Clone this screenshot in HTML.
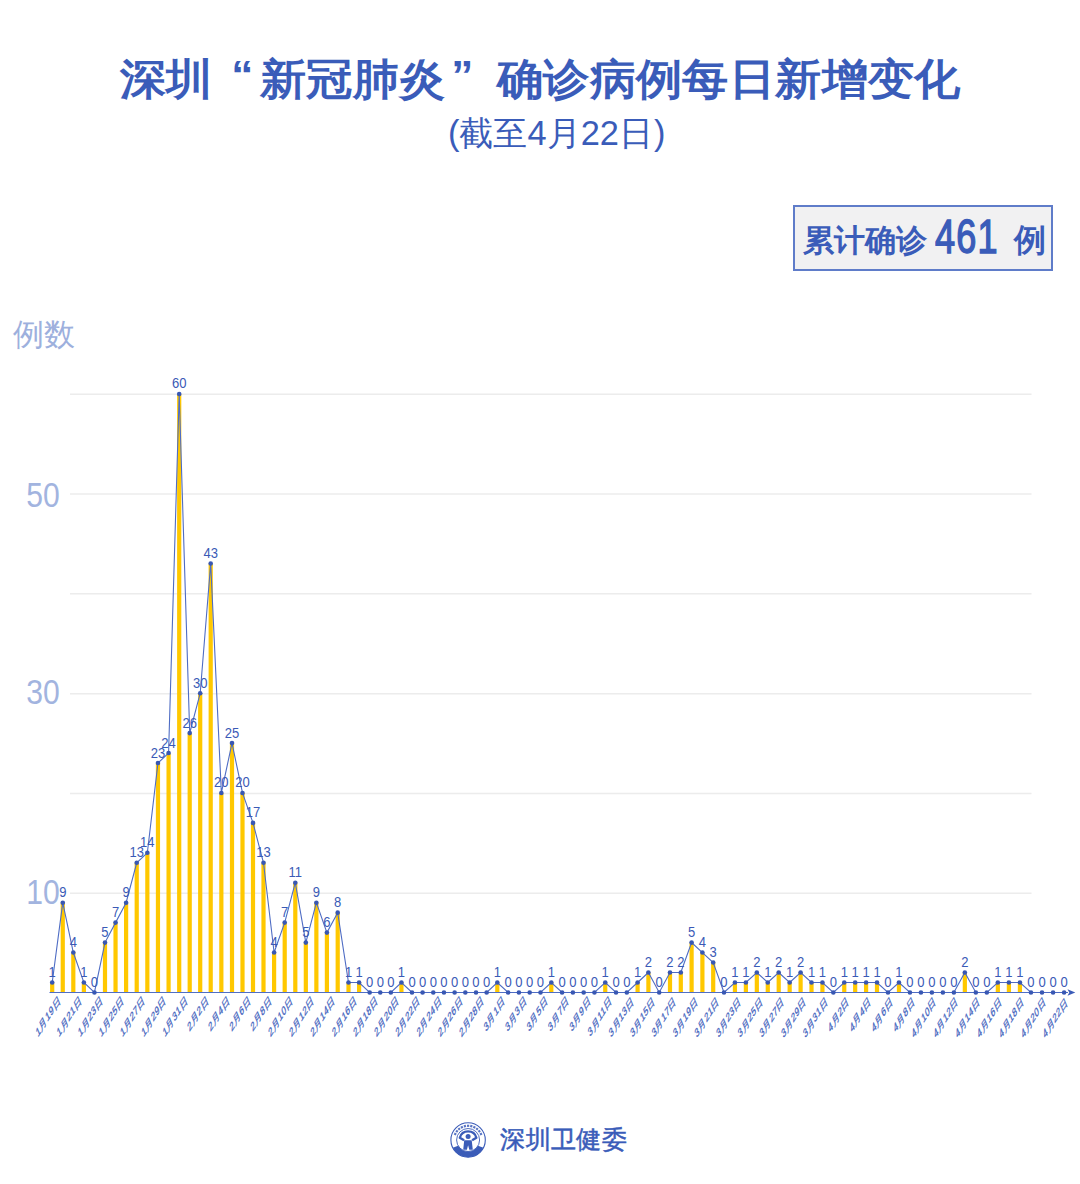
<!DOCTYPE html>
<html><head><meta charset="utf-8">
<style>
html,body{margin:0;padding:0;background:#fff;}
body{width:1080px;height:1184px;position:relative;overflow:hidden;font-family:"Liberation Sans",sans-serif;}
.abs{position:absolute;white-space:nowrap;}
.c{display:inline-block;text-align:center;letter-spacing:0;}
#title{left:0;width:1080px;text-align:center;top:48px;font-size:46px;letter-spacing:0.4px;font-weight:bold;color:#3a5cb9;line-height:60px;transform:scaleY(0.93);transform-origin:0 52px;}
.q1{display:inline-block;width:47.5px;text-align:right;box-sizing:border-box;padding-right:6px;position:relative;top:-6.5px;font-size:44px;}
.q2{display:inline-block;width:51.5px;text-align:left;box-sizing:border-box;padding-left:6px;position:relative;top:-6.5px;font-size:44px;}
#sub{left:448px;top:113px;font-size:34.4px;color:#3a5cb9;line-height:40px;}
#box{left:793px;top:205px;width:256px;height:62px;border:2px solid #5f7cc9;background:#f1f1f2;}
#ylab{left:13px;top:313.5px;font-size:30.5px;color:#9db0dd;line-height:40px;}
.yt{font-size:35px;color:#a2b4df;line-height:40px;text-align:right;width:60px;left:0;transform:scaleX(0.86);transform-origin:59px 0;}
#foot{left:500px;top:1121px;font-size:25.2px;color:#3a5cb9;line-height:36px;letter-spacing:0.4px;-webkit-text-stroke:0.5px #3a5cb9;}
svg{position:absolute;left:0;top:0;}
</style></head><body>
<div class="abs" id="title"><span class="c" style="width:46.4px">深</span><span class="c" style="width:46.4px">圳</span><span class="q1">“</span><span class="c" style="width:46.4px">新</span><span class="c" style="width:46.4px">冠</span><span class="c" style="width:46.4px">肺</span><span class="c" style="width:46.4px">炎</span><span class="q2">”</span><span class="c" style="width:46.4px">确</span><span class="c" style="width:46.4px">诊</span><span class="c" style="width:46.4px">病</span><span class="c" style="width:46.4px">例</span><span class="c" style="width:46.4px">每</span><span class="c" style="width:46.4px">日</span><span class="c" style="width:46.4px">新</span><span class="c" style="width:46.4px">增</span><span class="c" style="width:46.4px">变</span><span class="c" style="width:46.4px">化</span></div>
<div class="abs" id="sub">(<span class="c" style="width:34.02px">截</span><span class="c" style="width:34.02px">至</span>4<span class="c" style="width:34.02px">月</span>22<span class="c" style="width:34.02px">日</span><span style="margin-left:1px">)</span></div>
<div class="abs" id="box"></div>
<div class="abs" style="left:803px;top:220.5px;font-size:31px;font-weight:bold;color:#3a5cb9;line-height:40px;"><span class="c" style="width:31px">累</span><span class="c" style="width:31px">计</span><span class="c" style="width:31px">确</span><span class="c" style="width:31px">诊</span></div>
<div class="abs" style="left:935px;top:211px;font-size:47.5px;color:#3a5cb9;line-height:52px;letter-spacing:1.5px;-webkit-text-stroke:1.5px #3a5cb9;transform:scaleX(0.76);transform-origin:0 0;">461</div>
<div class="abs" style="left:1014px;top:220px;font-size:32px;font-weight:bold;color:#3a5cb9;line-height:40px;"><span class="c" style="width:32px">例</span></div>
<div class="abs" id="ylab"><span class="c" style="width:31px">例</span><span class="c" style="width:31px">数</span></div>
<div class="abs yt" style="top:475px;">50</div>
<div class="abs yt" style="top:672px;">30</div>
<div class="abs yt" style="top:872px;">10</div>
<svg width="1080" height="1184" viewBox="0 0 1080 1184">
<line x1="70" y1="893.28" x2="1031.5" y2="893.28" stroke="#ececec" stroke-width="1.5"/>
<line x1="70" y1="793.46" x2="1031.5" y2="793.46" stroke="#ececec" stroke-width="1.5"/>
<line x1="70" y1="693.64" x2="1031.5" y2="693.64" stroke="#ececec" stroke-width="1.5"/>
<line x1="70" y1="593.82" x2="1031.5" y2="593.82" stroke="#ececec" stroke-width="1.5"/>
<line x1="70" y1="494.00" x2="1031.5" y2="494.00" stroke="#ececec" stroke-width="1.5"/>
<line x1="70" y1="394.18" x2="1031.5" y2="394.18" stroke="#ececec" stroke-width="1.5"/>
<rect x="50.10" y="982.48" width="4.2" height="9.98" fill="#ffc800"/>
<rect x="60.66" y="902.68" width="4.2" height="89.77" fill="#ffc800"/>
<rect x="71.21" y="952.55" width="4.2" height="39.90" fill="#ffc800"/>
<rect x="81.77" y="982.48" width="4.2" height="9.98" fill="#ffc800"/>
<rect x="102.89" y="942.58" width="4.2" height="49.88" fill="#ffc800"/>
<rect x="113.44" y="922.62" width="4.2" height="69.83" fill="#ffc800"/>
<rect x="124.00" y="902.68" width="4.2" height="89.77" fill="#ffc800"/>
<rect x="134.62" y="862.78" width="4.2" height="129.67" fill="#ffc800"/>
<rect x="145.24" y="852.80" width="4.2" height="139.65" fill="#ffc800"/>
<rect x="155.86" y="763.03" width="4.2" height="229.42" fill="#ffc800"/>
<rect x="166.48" y="753.05" width="4.2" height="239.40" fill="#ffc800"/>
<rect x="177.10" y="393.95" width="4.2" height="598.50" fill="#ffc800"/>
<rect x="187.60" y="733.10" width="4.2" height="259.35" fill="#ffc800"/>
<rect x="198.10" y="693.20" width="4.2" height="299.25" fill="#ffc800"/>
<rect x="208.60" y="563.53" width="4.2" height="428.92" fill="#ffc800"/>
<rect x="219.25" y="792.95" width="4.2" height="199.50" fill="#ffc800"/>
<rect x="229.90" y="743.08" width="4.2" height="249.38" fill="#ffc800"/>
<rect x="240.40" y="792.95" width="4.2" height="199.50" fill="#ffc800"/>
<rect x="250.90" y="822.88" width="4.2" height="169.58" fill="#ffc800"/>
<rect x="261.40" y="862.78" width="4.2" height="129.67" fill="#ffc800"/>
<rect x="272.00" y="952.55" width="4.2" height="39.90" fill="#ffc800"/>
<rect x="282.60" y="922.62" width="4.2" height="69.83" fill="#ffc800"/>
<rect x="293.20" y="882.73" width="4.2" height="109.73" fill="#ffc800"/>
<rect x="303.73" y="942.58" width="4.2" height="49.88" fill="#ffc800"/>
<rect x="314.27" y="902.68" width="4.2" height="89.77" fill="#ffc800"/>
<rect x="324.80" y="932.60" width="4.2" height="59.85" fill="#ffc800"/>
<rect x="335.60" y="912.65" width="4.2" height="79.80" fill="#ffc800"/>
<rect x="346.40" y="982.48" width="4.2" height="9.98" fill="#ffc800"/>
<rect x="356.99" y="982.48" width="4.2" height="9.98" fill="#ffc800"/>
<rect x="399.33" y="982.48" width="4.2" height="9.98" fill="#ffc800"/>
<rect x="495.20" y="982.48" width="4.2" height="9.98" fill="#ffc800"/>
<rect x="549.20" y="982.48" width="4.2" height="9.98" fill="#ffc800"/>
<rect x="603.14" y="982.48" width="4.2" height="9.98" fill="#ffc800"/>
<rect x="635.50" y="982.48" width="4.2" height="9.98" fill="#ffc800"/>
<rect x="646.30" y="972.50" width="4.2" height="19.95" fill="#ffc800"/>
<rect x="667.90" y="972.50" width="4.2" height="19.95" fill="#ffc800"/>
<rect x="678.70" y="972.50" width="4.2" height="19.95" fill="#ffc800"/>
<rect x="689.50" y="942.58" width="4.2" height="49.88" fill="#ffc800"/>
<rect x="700.30" y="952.55" width="4.2" height="39.90" fill="#ffc800"/>
<rect x="711.10" y="962.53" width="4.2" height="29.92" fill="#ffc800"/>
<rect x="732.84" y="982.48" width="4.2" height="9.98" fill="#ffc800"/>
<rect x="743.79" y="982.48" width="4.2" height="9.98" fill="#ffc800"/>
<rect x="754.73" y="972.50" width="4.2" height="19.95" fill="#ffc800"/>
<rect x="765.67" y="982.48" width="4.2" height="9.98" fill="#ffc800"/>
<rect x="776.61" y="972.50" width="4.2" height="19.95" fill="#ffc800"/>
<rect x="787.56" y="982.48" width="4.2" height="9.98" fill="#ffc800"/>
<rect x="798.50" y="972.50" width="4.2" height="19.95" fill="#ffc800"/>
<rect x="809.41" y="982.48" width="4.2" height="9.98" fill="#ffc800"/>
<rect x="820.33" y="982.48" width="4.2" height="9.98" fill="#ffc800"/>
<rect x="842.16" y="982.48" width="4.2" height="9.98" fill="#ffc800"/>
<rect x="853.07" y="982.48" width="4.2" height="9.98" fill="#ffc800"/>
<rect x="863.99" y="982.48" width="4.2" height="9.98" fill="#ffc800"/>
<rect x="874.90" y="982.48" width="4.2" height="9.98" fill="#ffc800"/>
<rect x="896.86" y="982.48" width="4.2" height="9.98" fill="#ffc800"/>
<rect x="962.74" y="972.50" width="4.2" height="19.95" fill="#ffc800"/>
<rect x="995.74" y="982.48" width="4.2" height="9.98" fill="#ffc800"/>
<rect x="1006.79" y="982.48" width="4.2" height="9.98" fill="#ffc800"/>
<rect x="1017.83" y="982.48" width="4.2" height="9.98" fill="#ffc800"/>
<line x1="49.5" y1="992.45" x2="1068" y2="992.45" stroke="#4f6fc5" stroke-width="1.1"/>
<path d="M1067.5 989.1500000000001 L1075.3 992.45 L1067.5 995.75 L1069.3 992.45 Z" fill="#3b5cb8"/>
<polyline points="52.20,982.48 62.76,902.68 73.31,952.55 83.87,982.48 94.43,992.45 104.99,942.58 115.54,922.62 126.10,902.68 136.72,862.78 147.34,852.80 157.96,763.03 168.58,753.05 179.20,393.95 189.70,733.10 200.20,693.20 210.70,563.53 221.35,792.95 232.00,743.08 242.50,792.95 253.00,822.88 263.50,862.78 274.10,952.55 284.70,922.62 295.30,882.73 305.83,942.58 316.37,902.68 326.90,932.60 337.70,912.65 348.50,982.48 359.09,982.48 369.67,992.45 380.26,992.45 390.84,992.45 401.43,982.48 412.01,992.45 422.60,992.45 433.28,992.45 443.96,992.45 454.64,992.45 465.32,992.45 476.00,992.45 486.65,992.45 497.30,982.48 508.10,992.45 518.90,992.45 529.70,992.45 540.50,992.45 551.30,982.48 562.10,992.45 572.89,992.45 583.67,992.45 594.46,992.45 605.24,982.48 616.03,992.45 626.81,992.45 637.60,982.48 648.40,972.50 659.20,992.45 670.00,972.50 680.80,972.50 691.60,942.58 702.40,952.55 713.20,962.53 724.00,992.45 734.94,982.48 745.89,982.48 756.83,972.50 767.77,982.48 778.71,972.50 789.66,982.48 800.60,972.50 811.51,982.48 822.43,982.48 833.34,992.45 844.26,982.48 855.17,982.48 866.09,982.48 877.00,982.48 887.98,992.45 898.96,982.48 909.94,992.45 920.92,992.45 931.90,992.45 942.88,992.45 953.86,992.45 964.84,972.50 975.82,992.45 986.80,992.45 997.84,982.48 1008.89,982.48 1019.93,982.48 1030.97,992.45 1042.01,992.45 1053.06,992.45 1064.10,992.45" fill="none" stroke="#4e6cc4" stroke-width="1.1" stroke-linejoin="miter"/>
<circle cx="52.20" cy="982.48" r="2.3" fill="#3857b3"/>
<circle cx="62.76" cy="902.68" r="2.3" fill="#3857b3"/>
<circle cx="73.31" cy="952.55" r="2.3" fill="#3857b3"/>
<circle cx="83.87" cy="982.48" r="2.3" fill="#3857b3"/>
<circle cx="94.43" cy="992.45" r="2.3" fill="#3857b3"/>
<circle cx="104.99" cy="942.58" r="2.3" fill="#3857b3"/>
<circle cx="115.54" cy="922.62" r="2.3" fill="#3857b3"/>
<circle cx="126.10" cy="902.68" r="2.3" fill="#3857b3"/>
<circle cx="136.72" cy="862.78" r="2.3" fill="#3857b3"/>
<circle cx="147.34" cy="852.80" r="2.3" fill="#3857b3"/>
<circle cx="157.96" cy="763.03" r="2.3" fill="#3857b3"/>
<circle cx="168.58" cy="753.05" r="2.3" fill="#3857b3"/>
<circle cx="179.20" cy="393.95" r="2.3" fill="#3857b3"/>
<circle cx="189.70" cy="733.10" r="2.3" fill="#3857b3"/>
<circle cx="200.20" cy="693.20" r="2.3" fill="#3857b3"/>
<circle cx="210.70" cy="563.53" r="2.3" fill="#3857b3"/>
<circle cx="221.35" cy="792.95" r="2.3" fill="#3857b3"/>
<circle cx="232.00" cy="743.08" r="2.3" fill="#3857b3"/>
<circle cx="242.50" cy="792.95" r="2.3" fill="#3857b3"/>
<circle cx="253.00" cy="822.88" r="2.3" fill="#3857b3"/>
<circle cx="263.50" cy="862.78" r="2.3" fill="#3857b3"/>
<circle cx="274.10" cy="952.55" r="2.3" fill="#3857b3"/>
<circle cx="284.70" cy="922.62" r="2.3" fill="#3857b3"/>
<circle cx="295.30" cy="882.73" r="2.3" fill="#3857b3"/>
<circle cx="305.83" cy="942.58" r="2.3" fill="#3857b3"/>
<circle cx="316.37" cy="902.68" r="2.3" fill="#3857b3"/>
<circle cx="326.90" cy="932.60" r="2.3" fill="#3857b3"/>
<circle cx="337.70" cy="912.65" r="2.3" fill="#3857b3"/>
<circle cx="348.50" cy="982.48" r="2.3" fill="#3857b3"/>
<circle cx="359.09" cy="982.48" r="2.3" fill="#3857b3"/>
<circle cx="369.67" cy="992.45" r="2.3" fill="#3857b3"/>
<circle cx="380.26" cy="992.45" r="2.3" fill="#3857b3"/>
<circle cx="390.84" cy="992.45" r="2.3" fill="#3857b3"/>
<circle cx="401.43" cy="982.48" r="2.3" fill="#3857b3"/>
<circle cx="412.01" cy="992.45" r="2.3" fill="#3857b3"/>
<circle cx="422.60" cy="992.45" r="2.3" fill="#3857b3"/>
<circle cx="433.28" cy="992.45" r="2.3" fill="#3857b3"/>
<circle cx="443.96" cy="992.45" r="2.3" fill="#3857b3"/>
<circle cx="454.64" cy="992.45" r="2.3" fill="#3857b3"/>
<circle cx="465.32" cy="992.45" r="2.3" fill="#3857b3"/>
<circle cx="476.00" cy="992.45" r="2.3" fill="#3857b3"/>
<circle cx="486.65" cy="992.45" r="2.3" fill="#3857b3"/>
<circle cx="497.30" cy="982.48" r="2.3" fill="#3857b3"/>
<circle cx="508.10" cy="992.45" r="2.3" fill="#3857b3"/>
<circle cx="518.90" cy="992.45" r="2.3" fill="#3857b3"/>
<circle cx="529.70" cy="992.45" r="2.3" fill="#3857b3"/>
<circle cx="540.50" cy="992.45" r="2.3" fill="#3857b3"/>
<circle cx="551.30" cy="982.48" r="2.3" fill="#3857b3"/>
<circle cx="562.10" cy="992.45" r="2.3" fill="#3857b3"/>
<circle cx="572.89" cy="992.45" r="2.3" fill="#3857b3"/>
<circle cx="583.67" cy="992.45" r="2.3" fill="#3857b3"/>
<circle cx="594.46" cy="992.45" r="2.3" fill="#3857b3"/>
<circle cx="605.24" cy="982.48" r="2.3" fill="#3857b3"/>
<circle cx="616.03" cy="992.45" r="2.3" fill="#3857b3"/>
<circle cx="626.81" cy="992.45" r="2.3" fill="#3857b3"/>
<circle cx="637.60" cy="982.48" r="2.3" fill="#3857b3"/>
<circle cx="648.40" cy="972.50" r="2.3" fill="#3857b3"/>
<circle cx="659.20" cy="992.45" r="2.3" fill="#3857b3"/>
<circle cx="670.00" cy="972.50" r="2.3" fill="#3857b3"/>
<circle cx="680.80" cy="972.50" r="2.3" fill="#3857b3"/>
<circle cx="691.60" cy="942.58" r="2.3" fill="#3857b3"/>
<circle cx="702.40" cy="952.55" r="2.3" fill="#3857b3"/>
<circle cx="713.20" cy="962.53" r="2.3" fill="#3857b3"/>
<circle cx="724.00" cy="992.45" r="2.3" fill="#3857b3"/>
<circle cx="734.94" cy="982.48" r="2.3" fill="#3857b3"/>
<circle cx="745.89" cy="982.48" r="2.3" fill="#3857b3"/>
<circle cx="756.83" cy="972.50" r="2.3" fill="#3857b3"/>
<circle cx="767.77" cy="982.48" r="2.3" fill="#3857b3"/>
<circle cx="778.71" cy="972.50" r="2.3" fill="#3857b3"/>
<circle cx="789.66" cy="982.48" r="2.3" fill="#3857b3"/>
<circle cx="800.60" cy="972.50" r="2.3" fill="#3857b3"/>
<circle cx="811.51" cy="982.48" r="2.3" fill="#3857b3"/>
<circle cx="822.43" cy="982.48" r="2.3" fill="#3857b3"/>
<circle cx="833.34" cy="992.45" r="2.3" fill="#3857b3"/>
<circle cx="844.26" cy="982.48" r="2.3" fill="#3857b3"/>
<circle cx="855.17" cy="982.48" r="2.3" fill="#3857b3"/>
<circle cx="866.09" cy="982.48" r="2.3" fill="#3857b3"/>
<circle cx="877.00" cy="982.48" r="2.3" fill="#3857b3"/>
<circle cx="887.98" cy="992.45" r="2.3" fill="#3857b3"/>
<circle cx="898.96" cy="982.48" r="2.3" fill="#3857b3"/>
<circle cx="909.94" cy="992.45" r="2.3" fill="#3857b3"/>
<circle cx="920.92" cy="992.45" r="2.3" fill="#3857b3"/>
<circle cx="931.90" cy="992.45" r="2.3" fill="#3857b3"/>
<circle cx="942.88" cy="992.45" r="2.3" fill="#3857b3"/>
<circle cx="953.86" cy="992.45" r="2.3" fill="#3857b3"/>
<circle cx="964.84" cy="972.50" r="2.3" fill="#3857b3"/>
<circle cx="975.82" cy="992.45" r="2.3" fill="#3857b3"/>
<circle cx="986.80" cy="992.45" r="2.3" fill="#3857b3"/>
<circle cx="997.84" cy="982.48" r="2.3" fill="#3857b3"/>
<circle cx="1008.89" cy="982.48" r="2.3" fill="#3857b3"/>
<circle cx="1019.93" cy="982.48" r="2.3" fill="#3857b3"/>
<circle cx="1030.97" cy="992.45" r="2.3" fill="#3857b3"/>
<circle cx="1042.01" cy="992.45" r="2.3" fill="#3857b3"/>
<circle cx="1053.06" cy="992.45" r="2.3" fill="#3857b3"/>
<circle cx="1064.10" cy="992.45" r="2.3" fill="#3857b3"/>
<g transform="scale(0.93 1)" font-size="14" fill="#3a5ab6" text-anchor="middle" font-family="Liberation Sans, sans-serif"><text x="56.13" y="976.98">1</text><text x="67.48" y="897.18">9</text><text x="78.83" y="947.05">4</text><text x="90.18" y="976.98">1</text><text x="101.54" y="986.95">0</text><text x="112.89" y="937.08">5</text><text x="124.24" y="917.12">7</text><text x="135.59" y="897.18">9</text><text x="147.01" y="857.28">13</text><text x="158.43" y="847.30">14</text><text x="169.85" y="757.53">23</text><text x="181.27" y="747.55">24</text><text x="192.69" y="388.45">60</text><text x="203.98" y="727.60">26</text><text x="215.27" y="687.70">30</text><text x="226.56" y="558.03">43</text><text x="238.01" y="787.45">20</text><text x="249.46" y="737.58">25</text><text x="260.75" y="787.45">20</text><text x="272.04" y="817.38">17</text><text x="283.33" y="857.28">13</text><text x="294.73" y="947.05">4</text><text x="306.13" y="917.12">7</text><text x="317.53" y="877.23">11</text><text x="328.85" y="937.08">5</text><text x="340.18" y="897.18">9</text><text x="351.51" y="927.10">6</text><text x="363.12" y="907.15">8</text><text x="374.73" y="976.98">1</text><text x="386.11" y="976.98">1</text><text x="397.50" y="986.95">0</text><text x="408.88" y="986.95">0</text><text x="420.26" y="986.95">0</text><text x="431.64" y="976.98">1</text><text x="443.03" y="986.95">0</text><text x="454.41" y="986.95">0</text><text x="465.89" y="986.95">0</text><text x="477.38" y="986.95">0</text><text x="488.86" y="986.95">0</text><text x="500.34" y="986.95">0</text><text x="511.83" y="986.95">0</text><text x="523.28" y="986.95">0</text><text x="534.73" y="976.98">1</text><text x="546.34" y="986.95">0</text><text x="557.96" y="986.95">0</text><text x="569.57" y="986.95">0</text><text x="581.18" y="986.95">0</text><text x="592.80" y="976.98">1</text><text x="604.41" y="986.95">0</text><text x="616.01" y="986.95">0</text><text x="627.60" y="986.95">0</text><text x="639.20" y="986.95">0</text><text x="650.80" y="976.98">1</text><text x="662.40" y="986.95">0</text><text x="673.99" y="986.95">0</text><text x="685.59" y="976.98">1</text><text x="697.20" y="967.00">2</text><text x="708.82" y="986.95">0</text><text x="720.43" y="967.00">2</text><text x="732.04" y="967.00">2</text><text x="743.66" y="937.08">5</text><text x="755.27" y="947.05">4</text><text x="766.88" y="957.03">3</text><text x="778.49" y="986.95">0</text><text x="790.26" y="976.98">1</text><text x="802.03" y="976.98">1</text><text x="813.79" y="967.00">2</text><text x="825.56" y="976.98">1</text><text x="837.33" y="967.00">2</text><text x="849.09" y="976.98">1</text><text x="860.86" y="967.00">2</text><text x="872.60" y="976.98">1</text><text x="884.33" y="976.98">1</text><text x="896.07" y="986.95">0</text><text x="907.80" y="976.98">1</text><text x="919.54" y="976.98">1</text><text x="931.27" y="976.98">1</text><text x="943.01" y="976.98">1</text><text x="954.82" y="986.95">0</text><text x="966.62" y="976.98">1</text><text x="978.43" y="986.95">0</text><text x="990.24" y="986.95">0</text><text x="1002.04" y="986.95">0</text><text x="1013.85" y="986.95">0</text><text x="1025.66" y="986.95">0</text><text x="1037.46" y="967.00">2</text><text x="1049.27" y="986.95">0</text><text x="1061.08" y="986.95">0</text><text x="1072.95" y="976.98">1</text><text x="1084.82" y="976.98">1</text><text x="1096.70" y="976.98">1</text><text x="1108.57" y="986.95">0</text><text x="1120.45" y="986.95">0</text><text x="1132.32" y="986.95">0</text><text x="1144.19" y="986.95">0</text></g>
<g font-size="11" letter-spacing="0.4" fill="#4262bd" stroke="#4262bd" stroke-width="0.3" text-anchor="end" font-family="Liberation Sans, sans-serif"><text transform="matrix(0.530 -0.848 0.356 0.881 60.70 1001.15)">1月19日</text><text transform="matrix(0.530 -0.848 0.356 0.881 81.81 1001.15)">1月21日</text><text transform="matrix(0.530 -0.848 0.356 0.881 102.93 1001.15)">1月23日</text><text transform="matrix(0.530 -0.848 0.356 0.881 124.04 1001.15)">1月25日</text><text transform="matrix(0.530 -0.848 0.356 0.881 145.22 1001.15)">1月27日</text><text transform="matrix(0.530 -0.848 0.356 0.881 166.46 1001.15)">1月29日</text><text transform="matrix(0.530 -0.848 0.356 0.881 187.70 1001.15)">1月31日</text><text transform="matrix(0.530 -0.848 0.356 0.881 208.70 1001.15)">2月2日</text><text transform="matrix(0.530 -0.848 0.356 0.881 229.85 1001.15)">2月4日</text><text transform="matrix(0.530 -0.848 0.356 0.881 251.00 1001.15)">2月6日</text><text transform="matrix(0.530 -0.848 0.356 0.881 272.00 1001.15)">2月8日</text><text transform="matrix(0.530 -0.848 0.356 0.881 293.20 1001.15)">2月10日</text><text transform="matrix(0.530 -0.848 0.356 0.881 314.33 1001.15)">2月12日</text><text transform="matrix(0.530 -0.848 0.356 0.881 335.40 1001.15)">2月14日</text><text transform="matrix(0.530 -0.848 0.356 0.881 357.00 1001.15)">2月16日</text><text transform="matrix(0.530 -0.848 0.356 0.881 378.17 1001.15)">2月18日</text><text transform="matrix(0.530 -0.848 0.356 0.881 399.34 1001.15)">2月20日</text><text transform="matrix(0.530 -0.848 0.356 0.881 420.51 1001.15)">2月22日</text><text transform="matrix(0.530 -0.848 0.356 0.881 441.78 1001.15)">2月24日</text><text transform="matrix(0.530 -0.848 0.356 0.881 462.97 1001.20)">2月26日</text><text transform="matrix(0.530 -0.848 0.356 0.881 484.17 1001.25)">2月28日</text><text transform="matrix(0.530 -0.848 0.356 0.881 505.30 1001.30)">3月1日</text><text transform="matrix(0.530 -0.848 0.356 0.881 526.74 1001.35)">3月3日</text><text transform="matrix(0.530 -0.848 0.356 0.881 548.17 1001.40)">3月5日</text><text transform="matrix(0.530 -0.848 0.356 0.881 569.60 1001.45)">3月7日</text><text transform="matrix(0.530 -0.848 0.356 0.881 591.01 1001.50)">3月9日</text><text transform="matrix(0.530 -0.848 0.356 0.881 612.41 1001.55)">3月11日</text><text transform="matrix(0.530 -0.848 0.356 0.881 633.82 1001.60)">3月13日</text><text transform="matrix(0.530 -0.848 0.356 0.881 655.24 1001.65)">3月15日</text><text transform="matrix(0.530 -0.848 0.356 0.881 676.67 1001.70)">3月17日</text><text transform="matrix(0.530 -0.848 0.356 0.881 698.11 1001.75)">3月19日</text><text transform="matrix(0.530 -0.848 0.356 0.881 719.54 1001.80)">3月21日</text><text transform="matrix(0.530 -0.848 0.356 0.881 741.12 1001.85)">3月23日</text><text transform="matrix(0.530 -0.848 0.356 0.881 762.84 1001.90)">3月25日</text><text transform="matrix(0.530 -0.848 0.356 0.881 784.56 1001.95)">3月27日</text><text transform="matrix(0.530 -0.848 0.356 0.881 806.28 1002.00)">3月29日</text><text transform="matrix(0.530 -0.848 0.356 0.881 827.94 1002.05)">3月31日</text><text transform="matrix(0.530 -0.848 0.356 0.881 849.60 1002.10)">4月2日</text><text transform="matrix(0.530 -0.848 0.356 0.881 871.27 1002.15)">4月4日</text><text transform="matrix(0.530 -0.848 0.356 0.881 892.99 1002.20)">4月6日</text><text transform="matrix(0.530 -0.848 0.356 0.881 914.79 1002.25)">4月8日</text><text transform="matrix(0.530 -0.848 0.356 0.881 936.58 1002.30)">4月10日</text><text transform="matrix(0.530 -0.848 0.356 0.881 958.38 1002.35)">4月12日</text><text transform="matrix(0.530 -0.848 0.356 0.881 980.17 1002.40)">4月14日</text><text transform="matrix(0.530 -0.848 0.356 0.881 1002.03 1002.45)">4月16日</text><text transform="matrix(0.530 -0.848 0.356 0.881 1023.95 1002.50)">4月18日</text><text transform="matrix(0.530 -0.848 0.356 0.881 1045.87 1002.55)">4月20日</text><text transform="matrix(0.530 -0.848 0.356 0.881 1067.79 1002.60)">4月22日</text></g>
</svg>
<svg width="1080" height="1184" viewBox="0 0 1080 1184">
<g transform="translate(468.1 1140)">
<circle r="17.2" fill="none" stroke="#3b5cb8" stroke-width="1.1"/>
<circle r="11.5" fill="none" stroke="#3b5cb8" stroke-width="0.9"/>
<path d="M-15.33 7.81 A17.2 17.2 0 0 0 15.33 7.81 L9.96 5.75 A11.5 11.5 0 0 1 -9.96 5.75 Z" fill="#3b5cb8"/>
<rect x="-13.97" y="-7.10" width="2.2" height="2.2" fill="#3b5cb8" opacity="0.85" transform="rotate(295.0 -12.87 -6.00)"/><rect x="-12.29" y="-9.84" width="2.2" height="2.2" fill="#3b5cb8" opacity="0.85" transform="rotate(308.0 -11.19 -8.74)"/><rect x="-10.04" y="-12.14" width="2.2" height="2.2" fill="#3b5cb8" opacity="0.85" transform="rotate(321.0 -8.94 -11.04)"/><rect x="-7.32" y="-13.86" width="2.2" height="2.2" fill="#3b5cb8" opacity="0.85" transform="rotate(334.0 -6.22 -12.76)"/><rect x="-4.29" y="-14.94" width="2.2" height="2.2" fill="#3b5cb8" opacity="0.85" transform="rotate(347.0 -3.19 -13.84)"/><rect x="-1.10" y="-15.30" width="2.2" height="2.2" fill="#3b5cb8" opacity="0.85" transform="rotate(360.0 -0.00 -14.20)"/><rect x="2.09" y="-14.94" width="2.2" height="2.2" fill="#3b5cb8" opacity="0.85" transform="rotate(373.0 3.19 -13.84)"/><rect x="5.12" y="-13.86" width="2.2" height="2.2" fill="#3b5cb8" opacity="0.85" transform="rotate(386.0 6.22 -12.76)"/><rect x="7.84" y="-12.14" width="2.2" height="2.2" fill="#3b5cb8" opacity="0.85" transform="rotate(399.0 8.94 -11.04)"/><rect x="10.09" y="-9.84" width="2.2" height="2.2" fill="#3b5cb8" opacity="0.85" transform="rotate(412.0 11.19 -8.74)"/><rect x="11.77" y="-7.10" width="2.2" height="2.2" fill="#3b5cb8" opacity="0.85" transform="rotate(425.0 12.87 -6.00)"/>
<circle cx="0" cy="-3.6" r="2.5" fill="#3b5cb8"/>
<path d="M-4 0.3 L-8.3 -2.3 C-7 -7.2 -3 -8.7 0 -8.7 C3 -8.7 7 -7.2 8.3 -2.3 L4 0.3" fill="none" stroke="#3b5cb8" stroke-width="2.3" stroke-linejoin="round"/>
<path d="M-3.9 0.3 L3.6 0.3 L4.7 9.7 L1.2 9.7 L0 5.2 L-1.2 9.7 L-4.9 9.7 Z" fill="#3b5cb8"/>
</g>
</svg>
<div class="abs" id="foot"><span class="c" style="width:25.41px">深</span><span class="c" style="width:25.41px">圳</span><span class="c" style="width:25.41px">卫</span><span class="c" style="width:25.41px">健</span><span class="c" style="width:25.41px">委</span></div>
</body></html>
